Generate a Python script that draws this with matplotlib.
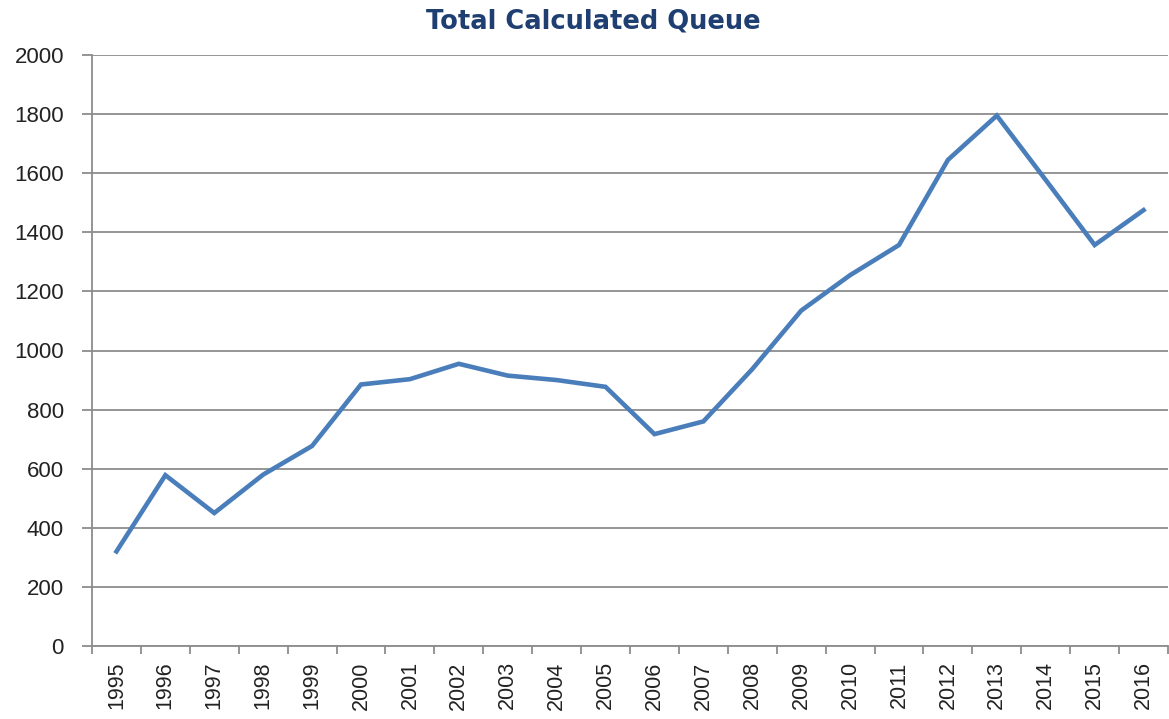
import numpy as np
import matplotlib.pyplot as plt

# data
years = [str(y) for y in range(1995, 2017)]
queue = [320, 578, 450, 580, 677, 885, 903, 955, 915, 900, 877,
         717, 760, 937, 1135, 1255, 1357, 1645, 1795, 1577, 1357, 1475]

fig = plt.figure(figsize=(11.69, 7.19), dpi=100)
ax = fig.add_axes([92/1169, 1-646/719, 1076/1169, 591/719])

x = np.arange(len(years))
ax.plot(x, queue, color='#4A7EBB', lw=3.3, solid_joinstyle='miter', zorder=3)

ax.set_xlim(-0.5, len(years) - 0.5)
ax.set_ylim(0, 2000)
ax.set_yticks(range(0, 2001, 200))
ax.grid(axis='y', color='#8C8C8C', lw=1.3)
ax.set_axisbelow(True)

# category labels centred, tick marks between categories
ax.set_xticks(x)
ax.set_xticklabels(years, rotation=90, fontsize=15.5, family='Liberation Sans', color='#222222')
ax.set_xticks(np.arange(-0.5, len(years)), minor=True)
ax.tick_params(axis='x', which='major', length=0, pad=11)
ax.tick_params(axis='x', which='minor', length=5.8, color='#8C8C8C', width=1.3)
ax.tick_params(axis='y', length=7.2, color='#8C8C8C', width=1.3, pad=13)
for lab in ax.get_yticklabels():
    lab.set_fontsize(16)
    lab.set_family('Liberation Sans')
    lab.set_color('#222222')

for s in ['top', 'right']:
    ax.spines[s].set_visible(False)
for s in ['left', 'bottom']:
    ax.spines[s].set_color('#8C8C8C')
    ax.spines[s].set_linewidth(1.3)

fig.text(593/1169, 1-21/719, 'Total Calculated Queue', ha='center', va='center',
         fontsize=18.5, fontweight='bold', family='DejaVu Sans', color='#1F3F73')

fig.savefig('out.png', dpi=100)
